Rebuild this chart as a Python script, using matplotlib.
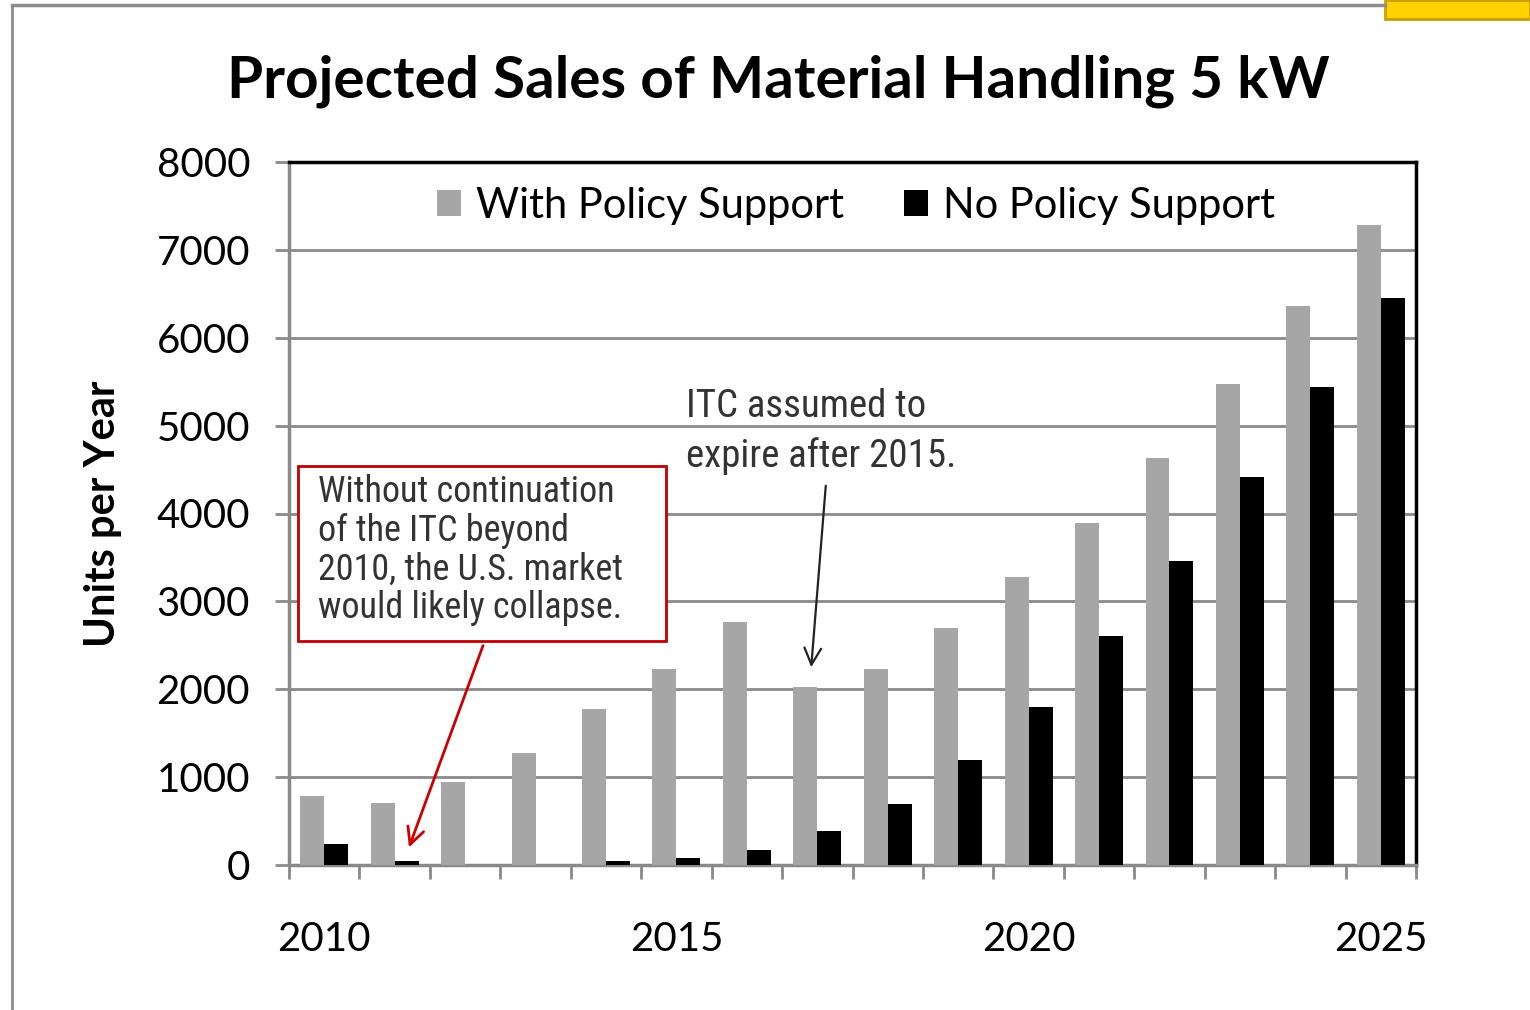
import numpy as np
import matplotlib
matplotlib.use('Agg')
from matplotlib import pyplot as plt
from matplotlib.patches import Rectangle

plt.rcParams['font.family'] = ['Lato', 'DejaVu Sans']

years = list(range(2010, 2026))
with_policy = [790, 700, 940, 1280, 1780, 2230, 2760, 2020, 2230, 2700, 3280, 3890, 4630, 5470, 6360, 7280]
no_policy = [235, 50, 0, 0, 50, 85, 175, 390, 695, 1190, 1800, 2605, 3460, 4420, 5440, 6450]
label_years = [2010, 2015, 2020, 2025]
series_names = ['With Policy Support', 'No Policy Support']

W, H = 1530, 1010


def px(x, y):
    # pixel position -> figure fraction
    return x / W, 1 - y / H


fig = plt.figure(figsize=(15.3, 10.1), dpi=100)
ax = fig.add_axes([289 / W, 1 - 865 / H, (1416 - 289) / W, (865 - 162) / H])

x = np.arange(len(years))
bw = 0.34
ax.bar(x - bw / 2, with_policy, bw, color='#a6a6a6', label=series_names[0], zorder=3)
ax.bar(x + bw / 2, no_policy, bw, color='#000000', label=series_names[1], zorder=3)

ax.set_xlim(-0.5, len(years) - 0.5)
ax.set_ylim(0, 8000)
ax.set_yticks(np.arange(0, 8001, 1000))
ax.yaxis.grid(True, color='#8a8a8a', linewidth=2, zorder=0)

# ticks at category boundaries, labels only on a few years
ax.set_xticks(np.arange(-0.5, len(years), 1))
ax.set_xticklabels([])
ax.set_xticks([years.index(y) for y in label_years], [str(y) for y in label_years], minor=True)
ax.tick_params(axis='x', which='major', length=10, width=2, color='#8a8a8a', direction='out')
ax.tick_params(axis='x', which='minor', length=0, pad=40, labelsize=29)
ax.tick_params(axis='y', length=10, width=2, color='#8a8a8a', pad=18, labelsize=29)

for s in ['left', 'bottom']:
    ax.spines[s].set_color('#8a8a8a')
    ax.spines[s].set_linewidth(2.5)
for s in ['top', 'right']:
    ax.spines[s].set_color('black')
    ax.spines[s].set_linewidth(2.5)

ax.set_ylabel('Units per Year', fontsize=30, fontweight='bold', labelpad=25)

leg = ax.legend(loc='upper center', ncol=2, frameon=False, fontsize=30,
                handlelength=0.58, handleheight=0.58, handletextpad=0.35,
                columnspacing=1.45, bbox_to_anchor=(0.503, 1.0), borderaxespad=0.2)

fig.text(*px(778, 81), 'Projected Sales of Material Handling 5 kW', fontsize=42,
         fontweight='bold', ha='center', va='center')

narrow = ['Roboto Condensed', 'Open Sans Condensed', 'DejaVu Sans']

# red annotation box
x0, y0 = px(298, 641)
x1, y1 = px(666, 466)
fig.patches.append(Rectangle((x0, y0), x1 - x0, y1 - y0, transform=fig.transFigure,
                             facecolor='white', edgecolor='#c00000', linewidth=2, zorder=5))
fig.text(*px(318, 474), 'Without continuation\nof the ITC beyond\n2010, the U.S. market\nwould likely collapse.',
         family=narrow, fontstretch='condensed', fontsize=26, color='#333333',
         ha='left', va='top', linespacing=1.1, zorder=6)
ax.annotate('', xy=px(408, 850), xytext=px(484, 643), xycoords='figure fraction',
            textcoords='figure fraction',
            arrowprops=dict(arrowstyle='->', color='#cc0000', lw=2, mutation_scale=30))

fig.text(*px(686, 388), 'ITC assumed to\nexpire after 2015.', family=narrow, fontstretch='condensed',
         fontsize=28, color='#333333', ha='left', va='top', linespacing=1.42)
ax.annotate('', xy=px(811, 670), xytext=px(826, 483), xycoords='figure fraction',
            textcoords='figure fraction',
            arrowprops=dict(arrowstyle='->', color='#222222', lw=1.6, mutation_scale=30))

# slide frame remnants
fig.add_artist(plt.Line2D([12 / W, 1385 / W], [1 - 5 / H, 1 - 5 / H], transform=fig.transFigure,
                          color='#8c8c8c', linewidth=2.5))
fig.add_artist(plt.Line2D([12 / W, 12 / W], [0, 1 - 5 / H], transform=fig.transFigure,
                          color='#8c8c8c', linewidth=2))
fig.patches.append(Rectangle(px(1385, 19), (W - 1385) / W, 19 / H, transform=fig.transFigure,
                             facecolor='#ffd200', edgecolor='#c9a000', linewidth=2))

fig.savefig('out.png', dpi=100)
